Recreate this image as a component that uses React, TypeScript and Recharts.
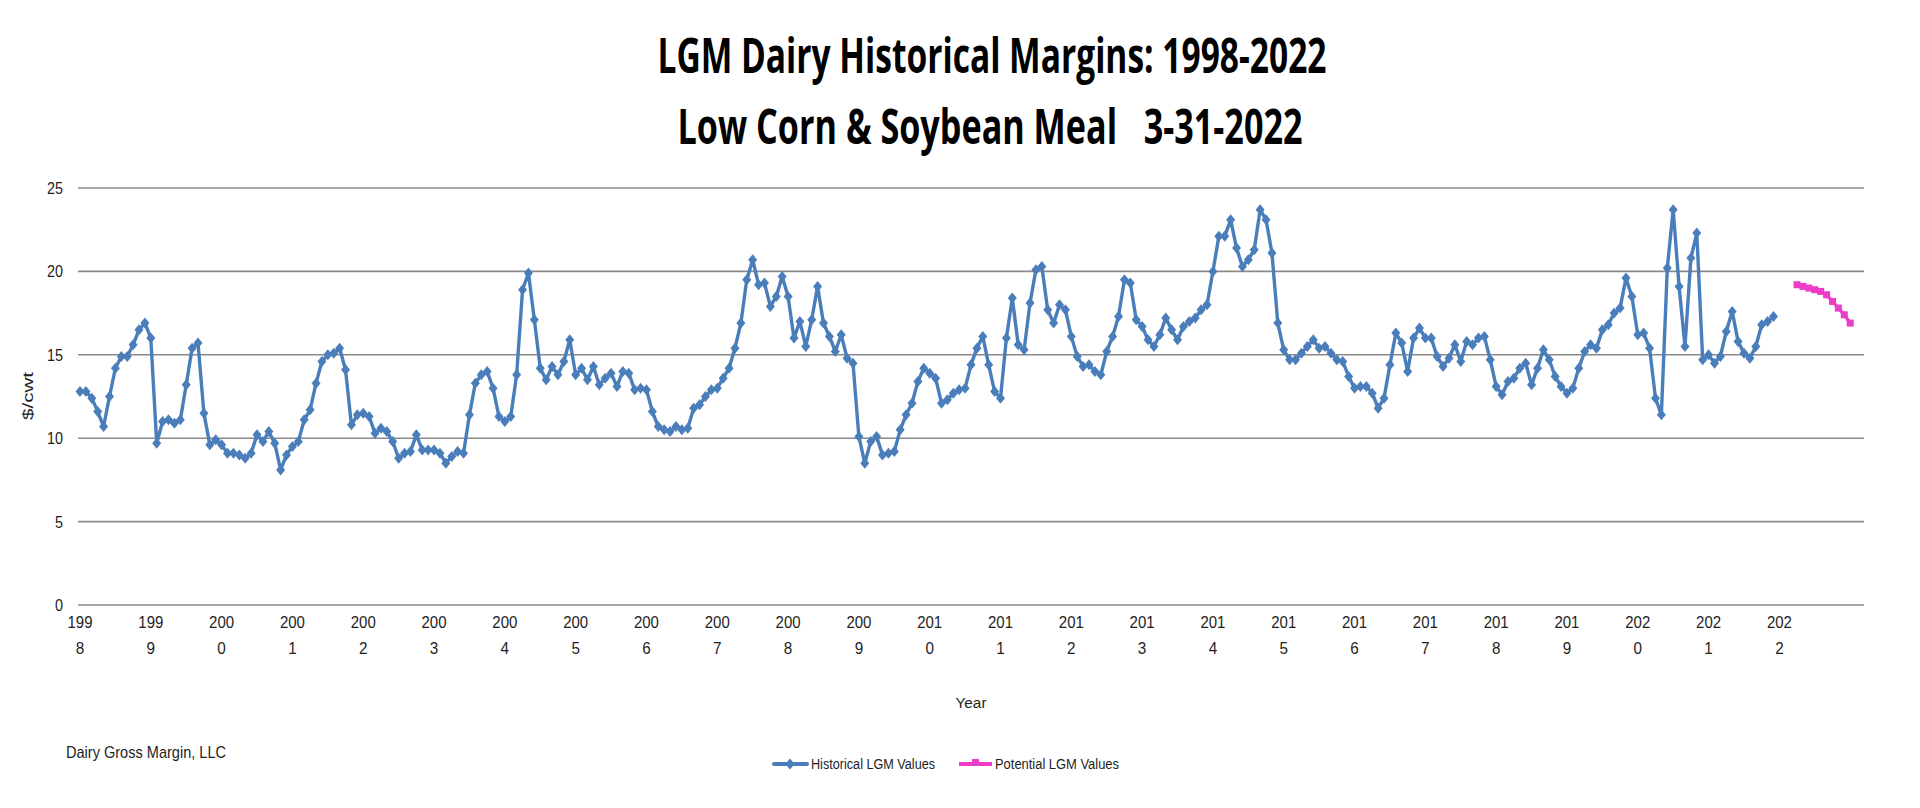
import React from 'react';
import { LineChart, Line, XAxis, YAxis, CartesianGrid } from 'recharts';

// ---------------- DATA ----------------
const historicalStart = { year: 1998, month: 1 };
const historicalValues = [
  12.8, 12.8, 12.4, 11.6, 10.7, 12.5, 14.2, 14.9, 14.9, 15.6, 16.5, 16.9,
  16.0, 9.7, 11.0, 11.1, 10.9, 11.1, 13.2, 15.4, 15.7, 11.5, 9.6, 9.9,
  9.6, 9.1, 9.1, 9.0, 8.8, 9.1, 10.2, 9.8, 10.4, 9.7, 8.1, 9.0,
  9.5, 9.8, 11.1, 11.7, 13.3, 14.6, 15.0, 15.1, 15.4, 14.1, 10.8, 11.4,
  11.5, 11.3, 10.3, 10.6, 10.4, 9.8, 8.8, 9.1, 9.2, 10.2, 9.3, 9.3,
  9.3, 9.1, 8.5, 8.9, 9.2, 9.1, 11.4, 13.3, 13.8, 14.0, 13.0, 11.3,
  11.0, 11.3, 13.8, 18.9, 19.9, 17.1, 14.2, 13.5, 14.3, 13.8, 14.6, 15.9,
  13.8, 14.2, 13.5, 14.3, 13.2, 13.6, 13.9, 13.1, 14.0, 13.9, 12.9, 13.0,
  12.9, 11.6, 10.7, 10.5, 10.4, 10.7, 10.5, 10.6, 11.8, 12.0, 12.5, 12.9,
  13.0, 13.6, 14.2, 15.4, 16.9, 19.5, 20.7, 19.2, 19.3, 17.9, 18.5, 19.7,
  18.5, 16.0, 17.0, 15.5, 17.1, 19.1, 16.9, 16.1, 15.2, 16.2, 14.8, 14.5,
  10.1, 8.5, 9.8, 10.1, 9.0, 9.1, 9.2, 10.5, 11.4, 12.1, 13.4, 14.2,
  13.9, 13.6, 12.1, 12.3, 12.7, 12.9, 13.0, 14.4, 15.4, 16.1, 14.4, 12.8,
  12.4, 16.0, 18.4, 15.6, 15.3, 18.1, 20.1, 20.3, 17.7, 16.9, 18.0, 17.7,
  16.1, 14.9, 14.3, 14.4, 14.0, 13.8, 15.2, 16.1, 17.3, 19.5, 19.3, 17.1,
  16.7, 15.9, 15.5, 16.2, 17.2, 16.5, 15.9, 16.7, 17.0, 17.2, 17.7, 18.0,
  20.0, 22.1, 22.1, 23.1, 21.4, 20.3, 20.7, 21.3, 23.7, 23.1, 21.1, 16.9,
  15.3, 14.7, 14.7, 15.1, 15.5, 15.9, 15.4, 15.5, 15.1, 14.7, 14.6, 13.7,
  13.0, 13.1, 13.1, 12.7, 11.8, 12.4, 14.4, 16.3, 15.7, 14.0, 16.0, 16.6,
  16.0, 16.0, 14.9, 14.3, 14.8, 15.6, 14.6, 15.8, 15.6, 16.0, 16.1, 14.7,
  13.1, 12.6, 13.4, 13.6, 14.2, 14.5, 13.2, 14.2, 15.3, 14.7, 13.7, 13.1,
  12.7, 13.0, 14.2, 15.2, 15.6, 15.4, 16.5, 16.8, 17.5, 17.8, 19.6, 18.5,
  16.2, 16.3, 15.4, 12.4, 11.4, 20.2, 23.7, 19.1, 15.5, 20.8, 22.3, 14.7,
  15.0, 14.5, 14.9, 16.4, 17.6, 15.8, 15.1, 14.8, 15.5, 16.8, 17.0, 17.3,
];
const potentialStart = { year: 2022, month: 4 };
const potentialValues = [19.2, 19.1, 19.0, 18.9, 18.8, 18.6, 18.2, 17.8, 17.4, 16.9];
const axisEnd = { year: 2023, month: 3 };
const yearLabels = [
  '1998', '1999', '2000', '2001', '2002', '2003', '2004', '2005', '2006',
  '2007', '2008', '2009', '2010', '2011', '2012', '2013', '2014', '2015',
  '2016', '2017', '2018', '2019', '2020', '2021', '2022',
];
const yTicks = [0, 5, 10, 15, 20, 25];

const titleLine1 = 'LGM Dairy Historical Margins: 1998-2022';
const titleLine2 = 'Low Corn & Soybean Meal   3-31-2022';
const yAxisTitle = '$/cwt';
const xAxisTitle = 'Year';
const sourceText = 'Dairy Gross Margin, LLC';
const seriesNames = ['Historical LGM Values', 'Potential LGM Values'];

// ---------------- BUILD TABLE ----------------
const monthKey = (y: number, m: number) => `${y}-${String(m).padStart(2, '0')}`;
function buildRows() {
  const rows: any[] = [];
  const h0 = historicalStart.year * 12 + historicalStart.month - 1;
  const p0 = potentialStart.year * 12 + potentialStart.month - 1;
  const end = axisEnd.year * 12 + axisEnd.month - 1;
  for (let t = h0; t <= end; t++) {
    const y = Math.floor(t / 12);
    const m = (t % 12) + 1;
    const h = historicalValues[t - h0];
    const p = t >= p0 ? potentialValues[t - p0] : undefined;
    rows.push({
      month: monthKey(y, m),
      historical: h === undefined ? null : h,
      potential: p === undefined ? null : p,
    });
  }
  return rows;
}
const rows = buildRows();

// ---------------- STYLE ----------------
const W = 1920;
const H = 808;
const BLUE = '#4A7EBB';
const PINK = '#EC3CC8';
const GRID = '#8a8a8a';
const TEXT = '#1e1e1e';
const FONT = "'Liberation Sans', Arial, sans-serif";
const TITLE_FONT = "'Open Sans', 'Liberation Sans', Arial, sans-serif";

const LABEL_Y1 = 628;
const LABEL_Y2 = 654;

const YearTick = (props: any) => {
  const { x, payload } = props;
  const v: string = payload && payload.value ? String(payload.value) : '';
  if (!v.endsWith('-01')) return <g />;
  const yr = v.slice(0, 4);
  if (!yearLabels.includes(yr)) return <g />;
  return (
    <g>
      <text x={x} y={LABEL_Y1} textAnchor="middle" fontFamily={FONT} fontSize={17} fill={TEXT}
        textLength={25} lengthAdjust="spacingAndGlyphs">{yr.slice(0, 3)}</text>
      <text x={x} y={LABEL_Y2} textAnchor="middle" fontFamily={FONT} fontSize={17} fill={TEXT}
        textLength={8.5} lengthAdjust="spacingAndGlyphs">{yr.slice(3)}</text>
    </g>
  );
};

const ValueTick = (props: any) => {
  const { y, payload } = props;
  const s = String(payload.value);
  return (
    <text x={63} y={y + 6} textAnchor="end" fontFamily={FONT} fontSize={17} fill={TEXT}
      textLength={s.length * 8} lengthAdjust="spacingAndGlyphs">{s}</text>
  );
};

const Diamond = (props: any) => {
  const { cx, cy, index } = props;
  if (cx == null || cy == null || props.value == null) return <g key={`hd${index}`} />;
  return (
    <polygon key={`hd${index}`}
      points={`${cx},${cy - 5.5} ${cx + 4.5},${cy} ${cx},${cy + 5.5} ${cx - 4.5},${cy}`}
      fill={BLUE} />
  );
};

const Square = (props: any) => {
  const { cx, cy, index } = props;
  if (cx == null || cy == null || props.value == null) return <g key={`ps${index}`} />;
  return <rect key={`ps${index}`} x={cx - 3.5} y={cy - 3.5} width={7} height={7} fill={PINK} />;
};

export default function App() {
  return (
    <div style={{ position: 'relative', width: W, height: H, overflow: 'hidden', background: '#fff' }}>
      <style>{`body{margin:0;background:#fff;}`}</style>

      <svg width={W} height={170} style={{ position: 'absolute', left: 0, top: 0 }}>
        <text x={992} y={73} textAnchor="middle" fontFamily={TITLE_FONT} fontWeight={700}
          fontSize={49} fill="#000" textLength={669} lengthAdjust="spacingAndGlyphs">{titleLine1}</text>
        <text x={990} y={144} textAnchor="middle" fontFamily={TITLE_FONT} fontWeight={700}
          fontSize={49} fill="#000" textLength={625} lengthAdjust="spacingAndGlyphs"
          style={{ whiteSpace: 'pre' }}>{titleLine2}</text>
      </svg>

      <div style={{ position: 'absolute', left: 0, top: 0 }}>
        <LineChart width={W} height={H} data={rows}
          margin={{ top: 188, right: 56, bottom: 143, left: 18 }}>
          <CartesianGrid vertical={false} stroke={GRID} strokeWidth={1.6} />
          <XAxis dataKey="month" interval={0} tick={<YearTick />} tickLine={false}
            axisLine={false} height={60} padding={{ left: 2, right: 2 }} />
          <YAxis domain={[0, 25]} ticks={yTicks} tick={<ValueTick />} tickLine={false}
            axisLine={false} width={60} />
          <Line dataKey="historical" name={seriesNames[0]} stroke={BLUE} strokeWidth={3.4}
            strokeLinejoin="round" dot={Diamond} activeDot={false} isAnimationActive={false}
            connectNulls={false} />
          <Line dataKey="potential" name={seriesNames[1]} stroke={PINK} strokeWidth={3.4}
            dot={Square} activeDot={false} isAnimationActive={false} connectNulls={false} />
        </LineChart>
      </div>

      <svg width={W} height={H} style={{ position: 'absolute', left: 0, top: 0, pointerEvents: 'none' }}>
        <text x={0} y={0} transform="translate(33,396) rotate(-90)" textAnchor="middle"
          fontFamily={FONT} fontSize={15} fill={TEXT} textLength={48}
          lengthAdjust="spacingAndGlyphs">{yAxisTitle}</text>
        <text x={971} y={708} textAnchor="middle" fontFamily={FONT} fontSize={14} fill={TEXT}
          textLength={31} lengthAdjust="spacingAndGlyphs">{xAxisTitle}</text>
        <text x={66} y={758} fontFamily={FONT} fontSize={17} fill={TEXT}
          textLength={160} lengthAdjust="spacingAndGlyphs">{sourceText}</text>

        {/* legend */}
        <line x1={774} y1={764} x2={807} y2={764} stroke={BLUE} strokeWidth={4} strokeLinecap="round" />
        <polygon points="790,758.5 794.5,764 790,769.5 785.5,764" fill={BLUE} />
        <text x={811} y={769} fontFamily={FONT} fontSize={14} fill={TEXT}
          textLength={124} lengthAdjust="spacingAndGlyphs">{seriesNames[0]}</text>
        <line x1={959} y1={764} x2={992} y2={764} stroke={PINK} strokeWidth={4} />
        <rect x={972} y={759} width={7} height={7} fill={PINK} />
        <text x={995} y={769} fontFamily={FONT} fontSize={14} fill={TEXT}
          textLength={124} lengthAdjust="spacingAndGlyphs">{seriesNames[1]}</text>
      </svg>
    </div>
  );
}
